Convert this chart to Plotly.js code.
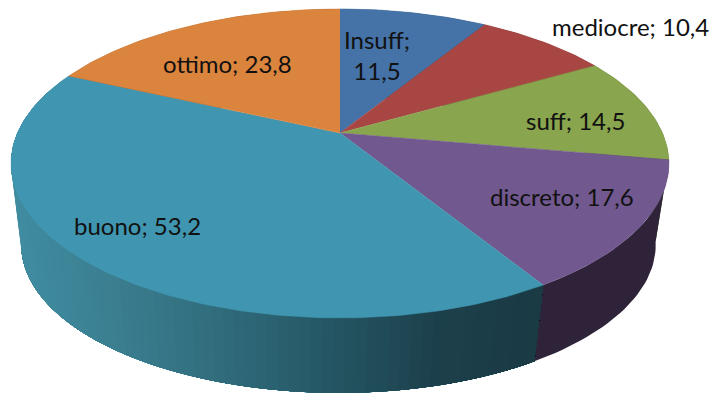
<!DOCTYPE html>
<html><head><meta charset="utf-8">
<script src="https://cdn.plot.ly/plotly-3.0.1.min.js"></script>
<style>html,body{margin:0;padding:0;background:#fff}#c{width:714px;height:394px}</style>
</head><body><div id="c"></div>
<script>
// data
const categories = ["Insuff","mediocre","suff","discreto","buono","ottimo"];
const values = [11.5,10.4,14.5,17.6,53.2,23.8];
const valueLabels = ["11,5","10,4","14,5","17,6","53,2","23,8"];
// style
const topColors = ["#4572A7","#A84644","#89A54E","#71588F","#4096B0","#DB843D"];
const wallColors = ["#2A4260","#602826","#4E5E2C","#2E2338",null,"#7E4C22"];
const tealStops = [[15,[64,140,160]],[120,[58,125,143]],[220,[48,108,124]],[340,[36,84,98]],[440,[28,64,75]],[540,[26,58,68]]];
const labelPos = [[377,55],[630,26],[575,120],[562,196],[137,225],[227,63]];
const labelBreak = [true,false,false,false,false,false];

// geometry of the tilted disc
const P = 0.197;
const topDisc = {cx:340,cy:133,a:322.5,b:148.5};
const botDisc = {cx:338.5,cy:216,a:311,b:142};
function proj(d,t){const u=Math.sin(t),v=Math.cos(t),w=1+P*v;return [d.cx+d.a*u/w,d.cy-d.b*v/w];}
function arc(d,t1,t2,stepsPer){const n=Math.max(2,Math.ceil(Math.abs(t2-t1)*stepsPer));const r=[];for(let i=0;i<=n;i++)r.push(proj(d,t1+(t2-t1)*i/n));return r;}
function poly(pts,color,width){return {type:'scatter',mode:'lines',x:pts.map(p=>p[0]),y:pts.map(p=>p[1]),fill:'toself',fillcolor:color,line:{color:color,width:width},hoverinfo:'skip',showlegend:false};}
function teal(x){
  const s=tealStops; if(x<=s[0][0])return s[0][1];
  for(let i=1;i<s.length;i++){if(x<=s[i][0]){const f=(x-s[i-1][0])/(s[i][0]-s[i-1][0]);return s[i-1][1].map((c,j)=>Math.round(c+(s[i][1][j]-c)*f));}}
  return s[s.length-1][1];
}
const total=values.reduce((a,b)=>a+b,0);
const edges=[0];values.forEach(v=>edges.push(edges[edges.length-1]+v/total*2*Math.PI));
const traces=[];
// walls
values.forEach((v,i)=>{
  const t1=edges[i],t2=edges[i+1];
  if(wallColors[i]){
    traces.push(poly(arc(topDisc,t1,t2,40).concat(arc(botDisc,t2,t1,40)),wallColors[i],0));
  }else{
    // painted from the far (left) end back to the right end so each band overlaps the next and no seams show
    const n=90;
    for(let k=n-1;k>=0;k--){
      const a=t1+(t2-t1)*k/n, b=t1+(t2-t1)*(k+1)/n;
      const pts=arc(topDisc,t1,b,60).concat(arc(botDisc,b,t1,60));
      const mid=proj(topDisc,(a+b)/2)[0];
      const c=teal(mid);
      traces.push(poly(pts,`rgb(${c[0]},${c[1]},${c[2]})`,0));
    }
  }
});
// top face
values.forEach((v,i)=>{
  const pts=[[topDisc.cx,topDisc.cy]];
  traces.push(poly(pts.concat(arc(topDisc,edges[i],edges[i+1],60)),topColors[i],0.5));
});
const annotations=categories.map((c,i)=>({
  x:labelPos[i][0],y:labelPos[i][1],xref:'x',yref:'y',showarrow:false,
  text:c+";"+(labelBreak[i]?"<br>":" ")+valueLabels[i],align:'center',
  font:{family:'Lato, sans-serif',size:24,color:'#111'}
}));
Plotly.newPlot('c',traces,{
  width:714,height:394,margin:{l:0,r:0,t:0,b:0},paper_bgcolor:'#fff',plot_bgcolor:'#fff',
  xaxis:{range:[0,714],visible:false,fixedrange:true},
  yaxis:{range:[394,0],visible:false,fixedrange:true},
  annotations:annotations,showlegend:false
},{displayModeBar:false,staticPlot:true});
</script></body></html>
